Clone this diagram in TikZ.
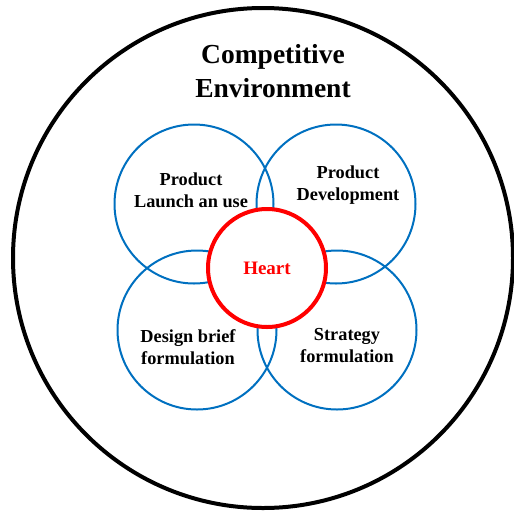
\documentclass[tikz,border=0pt]{standalone}
\usepackage{fontspec}
\setmainfont{Liberation Serif}
\usepackage{tikz}
\definecolor{stageblue}{RGB}{0,112,192}

\begin{document}
\begin{tikzpicture}[x=1pt, y=-1pt,
    stage/.style={circle, draw=stageblue, line width=2pt, minimum size=159pt, inner sep=0pt},
    lbl/.style={align=center, font=\fontsize{18.3}{22}\selectfont\bfseries}]
  \useasboundingbox (0,0) rectangle (514,512);
  % outer ring: the environment
  \node[circle, draw, line width=4pt, minimum size=500pt, inner sep=0pt] (env) at (263,258) {};
  \node[align=center, font=\fontsize{27.5}{34}\selectfont\bfseries] (title) at (273,71) {Competitive\\Environment};
  % four stages round the heart
  \foreach \s/\x/\y in {pl/194/204, pd/336/204, db/197/330, sf/337/330}
    \node[stage] (\s) at (\x,\y) {};
  \foreach \s/\x/\y/\txt in {pl/191/190/{Product\\Launch an use}, pd/348/185/{Product\\Development},
      db/188/347/{Design brief\\formulation}, sf/347/346/{Strategy\\formulation}}
    \node[lbl] (\s-lbl) at (\x,\y) {\txt};
  % the heart sits on top
  \node[circle, draw=red, fill=white, line width=4pt, minimum size=118pt, inner sep=0pt,
    text=red, font=\fontsize{19}{22}\selectfont\bfseries] (heart) at (267,268) {Heart};
\end{tikzpicture}
\end{document}
